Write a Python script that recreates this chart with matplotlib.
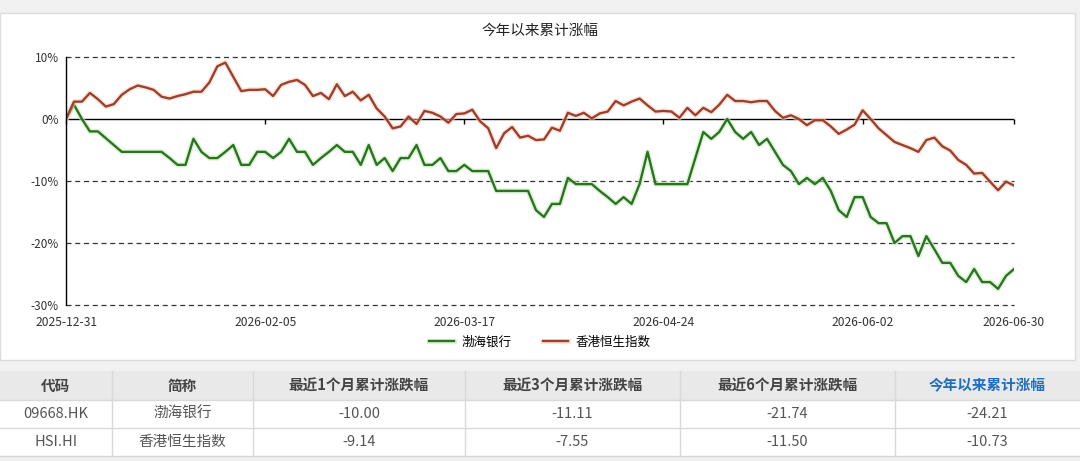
import matplotlib
matplotlib.use("Agg")
import matplotlib.pyplot as plt
import matplotlib.patheffects as pe
import numpy as np

plt.rcParams['font.family'] = ['Noto Sans CJK SC', 'DejaVu Sans']

# ---------------- data ----------------
title = "今年以来累计涨幅"
series_names = ["渤海银行", "香港恒生指数"]

bohai = [0.0, 2.3, 0.0, -2.0, -2.0, -3.1, -4.2, -5.3, -5.3, -5.3,
         -5.3, -5.3, -5.3, -6.3, -7.4, -7.4, -3.2, -5.3, -6.3, -6.3,
         -5.3, -4.2, -7.4, -7.4, -5.3, -5.3, -6.3, -5.3, -3.2, -5.3,
         -5.3, -7.4, -6.3, -5.3, -4.2, -5.3, -5.3, -7.4, -4.2, -7.4,
         -6.3, -8.4, -6.3, -6.3, -4.2, -7.4, -7.4, -6.3, -8.4, -8.4,
         -7.4, -8.4, -8.4, -8.4, -11.6, -11.6, -11.6, -11.6, -11.6, -14.7,
         -15.8, -13.7, -13.7, -9.5, -10.5, -10.5, -10.5, -11.6, -12.6, -13.7,
         -12.6, -13.7, -10.5, -5.3, -10.5, -10.5, -10.5, -10.5, -10.5, -6.3,
         -2.1, -3.2, -2.1, 0.0, -2.1, -3.2, -2.1, -4.2, -3.2, -5.3,
         -7.4, -8.4, -10.5, -9.5, -10.5, -9.5, -11.6, -14.7, -15.8, -12.6,
         -12.6, -15.8, -16.8, -16.8, -20.0, -18.9, -18.9, -22.1, -18.9, -21.0,
         -23.2, -23.2, -25.3, -26.3, -24.2, -26.3, -26.3, -27.4, -25.3, -24.21]

hsi = [0.0, 2.8, 2.8, 4.2, 3.2, 2.0, 2.4, 3.9, 4.8, 5.4,
       5.1, 4.7, 3.6, 3.3, 3.7, 4.0, 4.4, 4.4, 5.9, 8.5,
       9.1, 6.8, 4.5, 4.7, 4.7, 4.8, 3.7, 5.5, 6.0, 6.3,
       5.5, 3.7, 4.2, 3.2, 5.6, 3.7, 4.4, 3.0, 3.9, 1.7,
       0.4, -1.5, -1.2, 0.4, -0.8, 1.3, 1.0, 0.4, -0.6, 0.8,
       0.9, 1.5, -0.4, -1.5, -4.7, -2.3, -1.3, -3.0, -2.7, -3.4,
       -3.3, -1.4, -1.9, 1.0, 0.5, 1.0, 0.1, 0.9, 1.2, 2.9,
       2.2, 2.8, 3.3, 2.2, 1.2, 1.3, 1.2, 0.2, 1.8, 0.6,
       1.8, 1.1, 2.3, 3.9, 2.9, 2.9, 2.7, 2.9, 2.9, 1.3,
       0.2, 0.6, 0.0, -1.0, -0.2, -0.2, -1.2, -2.4, -1.7, -0.9,
       1.4, 0.0, -1.5, -2.6, -3.7, -4.2, -4.7, -5.3, -3.4, -3.0,
       -4.4, -5.1, -6.6, -7.4, -8.8, -8.7, -10.1, -11.5, -10.1, -10.73]

tick_index = [0, 25, 50, 75, 100, 119]
tick_labels = ["2025-12-31", "2026-02-05", "2026-03-17", "2026-04-24", "2026-06-02", "2026-06-30"]
y_ticks = [10, 0, -10, -20, -30]

table_header = ["代码", "简称", "最近1个月累计涨跌幅", "最近3个月累计涨跌幅", "最近6个月累计涨跌幅", "今年以来累计涨幅"]
table_codes = ["09668.HK", "HSI.HI"]
table_names = ["渤海银行", "香港恒生指数"]
ret_1m = ["-10.00", "-9.14"]
ret_3m = ["-11.11", "-7.55"]
ret_6m = ["-21.74", "-11.50"]
ret_ytd = ["-24.21", "-10.73"]

# ---------------- figure ----------------
W, H = 1080, 461
fig = plt.figure(figsize=(W / 100, H / 100), dpi=100)
fig.patch.set_facecolor("#f1f1f1")

# background / table layer in pixel coordinates
bg = fig.add_axes([0, 0, 1, 1], zorder=0)
bg.set_xlim(0, W)
bg.set_ylim(H, 0)
bg.axis("off")

# chart panel
bg.add_patch(plt.Rectangle((0, 13), 1075, 347, facecolor="white", edgecolor="#dcdcdc", lw=1))

# table
col_edges = [0, 112, 253, 465, 680, 895, 1080]
row_edges = [371, 400, 428, 456]
bg.add_patch(plt.Rectangle((0, row_edges[0]), W, row_edges[1] - row_edges[0], facecolor="#e9e9e9", edgecolor="none"))
bg.add_patch(plt.Rectangle((0, row_edges[1]), W, row_edges[3] - row_edges[1], facecolor="white", edgecolor="none"))
for y in row_edges[1:]:
    bg.plot([0, W], [y, y], color="#d9d9d9", lw=1)
for x in col_edges[1:-1]:
    bg.plot([x, x], [row_edges[0], row_edges[3]], color="#d9d9d9", lw=1)

centers = [(col_edges[i] + col_edges[i + 1]) / 2 for i in range(6)]
hy = (row_edges[0] + row_edges[1]) / 2
for i, txt in enumerate(table_header):
    color = "#1f6fbf" if i == 5 else "#444444"
    bg.text(centers[i], hy, txt, ha="center", va="center", fontsize=10.5,
            color=color, fontweight="bold")
rows = list(zip(table_codes, table_names, ret_1m, ret_3m, ret_6m, ret_ytd))
for r, row in enumerate(rows):
    ry = (row_edges[r + 1] + row_edges[r + 2]) / 2
    for i, txt in enumerate(row):
        bg.text(centers[i], ry, txt, ha="center", va="center", fontsize=10.5, color="#555555")

# chart title
bg.text(540, 31, title, ha="center", va="center", fontsize=10.5, color="#222222")

# ---------------- line chart ----------------
left, right, top, bottom = 66, 1014, 57, 305
ax = fig.add_axes([left / W, 1 - bottom / H, (right - left) / W, (bottom - top) / H], zorder=2)
ax.patch.set_alpha(0)

x = np.arange(len(hsi))
green = "#2a7420"
brown = "#9e4029"
ax.plot(x, bohai, color=green, lw=1.7, label=series_names[0], solid_joinstyle="round",
        path_effects=[pe.Stroke(linewidth=3.8, foreground="#c9ecc0", alpha=0.6), pe.Normal()])
ax.plot(x, hsi, color=brown, lw=1.7, label=series_names[1], solid_joinstyle="round",
        path_effects=[pe.Stroke(linewidth=3.8, foreground="#f6d6cc", alpha=0.6), pe.Normal()])

ax.set_xlim(0, len(hsi) - 1)
ax.set_ylim(-30, 10)
for s in ["top", "right", "bottom"]:
    ax.spines[s].set_visible(False)
ax.spines["left"].set_color("black")
ax.spines["left"].set_linewidth(1)

for yv in [10, -10, -20, -30]:
    ax.axhline(yv, color="#333333", lw=0.9, ls=(0, (4, 3)), zorder=0.5, clip_on=False)
ax.axhline(0, color="black", lw=1, zorder=1)
ax.vlines(tick_index, -0.8, 0, color="black", lw=1, zorder=1, clip_on=False)

ax.set_yticks(y_ticks)
ax.set_yticklabels([f"{v}%" for v in y_ticks])
ax.tick_params(axis="y", length=0, pad=5, labelsize=8.5, labelcolor="#333333")
ax.set_xticks(tick_index)
ax.set_xticklabels(tick_labels)
ax.tick_params(axis="x", length=0, pad=8, labelsize=8.7, labelcolor="#333333")

fig.legend(loc="center", bbox_to_anchor=(540 / W, 1 - 342 / H), ncol=2, frameon=False,
           fontsize=9, handlelength=2.0, columnspacing=2.5, handletextpad=0.6)

fig.savefig("out.png", dpi=100, facecolor=fig.get_facecolor())
